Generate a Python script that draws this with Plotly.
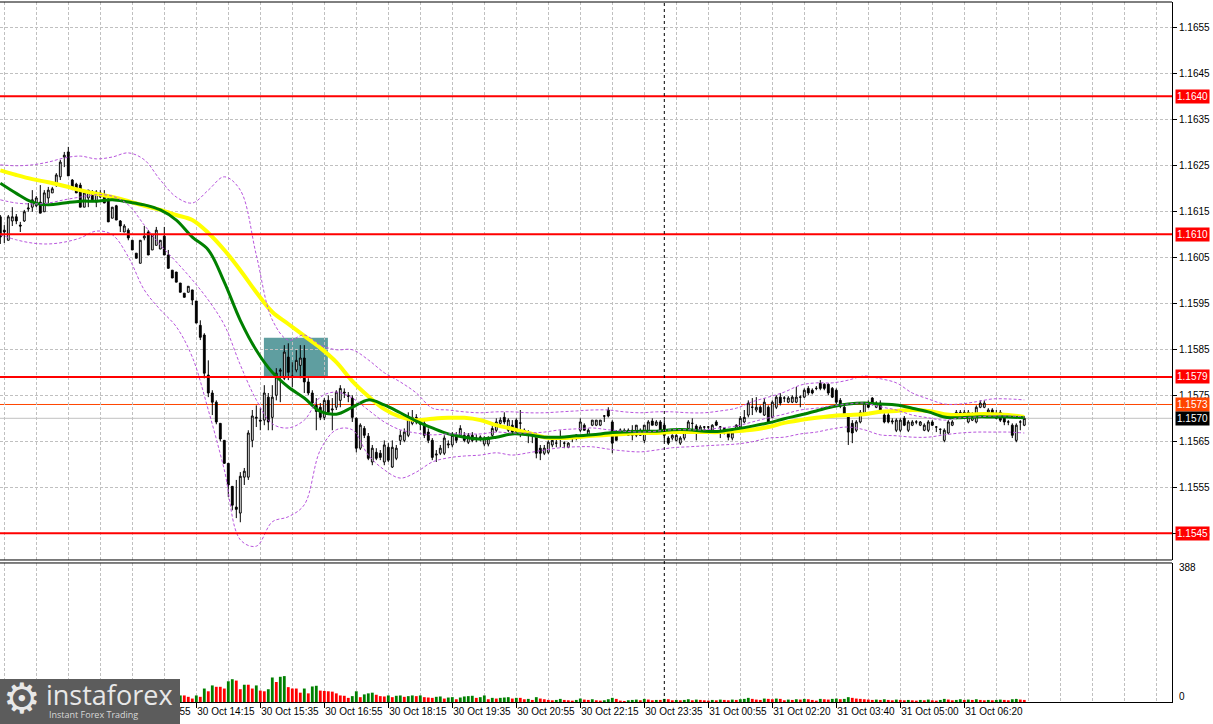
import plotly.graph_objects as go

# ---- candles (5 min bars, index 0 = 30 Oct 10:10) ----
OPEN = [
    1.16138, 1.16109, 1.16087, 1.16129, 1.16138, 1.16120, 1.16129, 1.16155, 1.16159, 1.16162,
    1.16170, 1.16149, 1.16179, 1.16190, 1.16207, 1.16225, 1.16268, 1.16279, 1.16218, 1.16209,
    1.16207, 1.16159, 1.16179, 1.16192, 1.16170, 1.16190, 1.16181, 1.16177, 1.16135, 1.16162,
    1.16129, 1.16105, 1.16109, 1.16087, 1.16059, 1.16037, 1.16092, 1.16105, 1.16066, 1.16076,
    1.16068, 1.16096, 1.16055, 1.16022, 1.16018, 1.15994, 1.15972, 1.15974, 1.15979, 1.15955,
    1.15902, 1.15881, 1.15794, 1.15755, 1.15735, 1.15689, 1.15652, 1.15602, 1.15552, 1.15507,
    1.15494, 1.15572, 1.15572, 1.15652, 1.15700, 1.15696, 1.15696, 1.15746, 1.15702, 1.15750,
    1.15802, 1.15787, 1.15833, 1.15792, 1.15805, 1.15815, 1.15831, 1.15779, 1.15755, 1.15728,
    1.15724, 1.15702, 1.15739, 1.15718, 1.15724, 1.15739, 1.15757, 1.15750, 1.15744, 1.15700,
    1.15635, 1.15678, 1.15661, 1.15605, 1.15626, 1.15624, 1.15605, 1.15637, 1.15594, 1.15613,
    1.15652, 1.15652, 1.15663, 1.15689, 1.15702, 1.15692, 1.15689, 1.15670, 1.15652, 1.15620,
    1.15624, 1.15624, 1.15642, 1.15642, 1.15663, 1.15663, 1.15663, 1.15648, 1.15663, 1.15657,
    1.15657, 1.15644, 1.15644, 1.15663, 1.15674, 1.15689, 1.15702, 1.15674, 1.15685, 1.15696,
    1.15689, 1.15674, 1.15668, 1.15666, 1.15661, 1.15635, 1.15624, 1.15626, 1.15642, 1.15646,
    1.15655, 1.15646, 1.15637, 1.15657, 1.15663, 1.15674, 1.15685, 1.15663, 1.15685, 1.15685,
    1.15685, 1.15705, 1.15718, 1.15692, 1.15668, 1.15674, 1.15674, 1.15674, 1.15663, 1.15663,
    1.15674, 1.15652, 1.15670, 1.15694, 1.15685, 1.15692, 1.15685, 1.15657, 1.15657, 1.15652,
    1.15646, 1.15657, 1.15678, 1.15689, 1.15683, 1.15674, 1.15681, 1.15681, 1.15674, 1.15692,
    1.15681, 1.15678, 1.15668, 1.15657, 1.15674, 1.15681, 1.15692, 1.15707, 1.15724, 1.15718,
    1.15724, 1.15707, 1.15724, 1.15702, 1.15724, 1.15746, 1.15744, 1.15735, 1.15735, 1.15735,
    1.15746, 1.15746, 1.15765, 1.15761, 1.15765, 1.15776, 1.15774, 1.15774, 1.15765, 1.15761,
    1.15739, 1.15724, 1.15707, 1.15689, 1.15674, 1.15692, 1.15711, 1.15733, 1.15744, 1.15724,
    1.15733, 1.15707, 1.15707, 1.15692, 1.15674, 1.15674, 1.15700, 1.15674, 1.15685, 1.15692,
    1.15685, 1.15674, 1.15674, 1.15692, 1.15681, 1.15676, 1.15652, 1.15668, 1.15685, 1.15700,
    1.15702, 1.15713, 1.15692, 1.15696, 1.15692, 1.15724, 1.15724, 1.15713, 1.15718, 1.15700,
    1.15713, 1.15707, 1.15692, 1.15685, 1.15652, 1.15692, 1.15685,
]
HIGH = [
    1.16142, 1.16120, 1.16142, 1.16159, 1.16144, 1.16127, 1.16153, 1.16168, 1.16196, 1.16183,
    1.16207, 1.16196, 1.16203, 1.16203, 1.16233, 1.16262, 1.16279, 1.16290, 1.16220, 1.16212,
    1.16212, 1.16190, 1.16196, 1.16196, 1.16196, 1.16196, 1.16196, 1.16179, 1.16159, 1.16164,
    1.16131, 1.16122, 1.16113, 1.16087, 1.16059, 1.16087, 1.16118, 1.16109, 1.16098, 1.16116,
    1.16087, 1.16116, 1.16066, 1.16022, 1.16018, 1.15994, 1.15972, 1.15987, 1.15979, 1.15955,
    1.15913, 1.15885, 1.15826, 1.15761, 1.15739, 1.15689, 1.15652, 1.15602, 1.15552, 1.15566,
    1.15583, 1.15592, 1.15674, 1.15718, 1.15728, 1.15722, 1.15772, 1.15755, 1.15772, 1.15809,
    1.15809, 1.15859, 1.15863, 1.15822, 1.15848, 1.15859, 1.15859, 1.15787, 1.15761, 1.15744,
    1.15733, 1.15744, 1.15750, 1.15744, 1.15761, 1.15772, 1.15765, 1.15757, 1.15750, 1.15702,
    1.15689, 1.15683, 1.15668, 1.15642, 1.15635, 1.15631, 1.15652, 1.15646, 1.15652, 1.15642,
    1.15674, 1.15678, 1.15713, 1.15718, 1.15709, 1.15700, 1.15696, 1.15678, 1.15657, 1.15631,
    1.15642, 1.15663, 1.15652, 1.15670, 1.15670, 1.15685, 1.15670, 1.15668, 1.15670, 1.15665,
    1.15663, 1.15661, 1.15661, 1.15685, 1.15700, 1.15702, 1.15713, 1.15700, 1.15696, 1.15700,
    1.15718, 1.15678, 1.15674, 1.15670, 1.15668, 1.15642, 1.15642, 1.15652, 1.15657, 1.15657,
    1.15674, 1.15650, 1.15648, 1.15661, 1.15665, 1.15700, 1.15689, 1.15678, 1.15696, 1.15696,
    1.15696, 1.15707, 1.15724, 1.15696, 1.15674, 1.15678, 1.15678, 1.15678, 1.15685, 1.15685,
    1.15678, 1.15685, 1.15696, 1.15700, 1.15696, 1.15696, 1.15696, 1.15661, 1.15665, 1.15665,
    1.15661, 1.15670, 1.15696, 1.15700, 1.15687, 1.15685, 1.15683, 1.15683, 1.15687, 1.15696,
    1.15683, 1.15681, 1.15674, 1.15674, 1.15687, 1.15705, 1.15718, 1.15739, 1.15744, 1.15746,
    1.15728, 1.15744, 1.15728, 1.15739, 1.15750, 1.15755, 1.15748, 1.15748, 1.15750, 1.15768,
    1.15750, 1.15765, 1.15770, 1.15765, 1.15770, 1.15783, 1.15776, 1.15776, 1.15768, 1.15765,
    1.15744, 1.15728, 1.15711, 1.15696, 1.15696, 1.15718, 1.15735, 1.15739, 1.15746, 1.15737,
    1.15739, 1.15711, 1.15711, 1.15700, 1.15700, 1.15700, 1.15705, 1.15696, 1.15696, 1.15696,
    1.15694, 1.15689, 1.15696, 1.15696, 1.15683, 1.15678, 1.15678, 1.15696, 1.15696, 1.15718,
    1.15718, 1.15718, 1.15718, 1.15713, 1.15728, 1.15739, 1.15739, 1.15722, 1.15722, 1.15718,
    1.15718, 1.15711, 1.15696, 1.15689, 1.15689, 1.15696, 1.15705,
]
LOW = [
    1.16079, 1.16081, 1.16087, 1.16118, 1.16122, 1.16105, 1.16127, 1.16149, 1.16149, 1.16159,
    1.16146, 1.16149, 1.16168, 1.16190, 1.16203, 1.16218, 1.16246, 1.16227, 1.16196, 1.16190,
    1.16159, 1.16159, 1.16159, 1.16170, 1.16159, 1.16179, 1.16168, 1.16127, 1.16135, 1.16131,
    1.16105, 1.16105, 1.16087, 1.16066, 1.16048, 1.16037, 1.16087, 1.16055, 1.16066, 1.16076,
    1.16068, 1.16055, 1.16026, 1.16005, 1.15996, 1.15974, 1.15963, 1.15974, 1.15946, 1.15907,
    1.15870, 1.15787, 1.15746, 1.15707, 1.15687, 1.15650, 1.15602, 1.15529, 1.15500, 1.15483,
    1.15474, 1.15555, 1.15566, 1.15637, 1.15681, 1.15674, 1.15685, 1.15674, 1.15674, 1.15739,
    1.15735, 1.15783, 1.15783, 1.15768, 1.15800, 1.15787, 1.15755, 1.15750, 1.15728, 1.15674,
    1.15696, 1.15696, 1.15707, 1.15674, 1.15718, 1.15724, 1.15744, 1.15735, 1.15692, 1.15626,
    1.15631, 1.15657, 1.15609, 1.15598, 1.15609, 1.15609, 1.15598, 1.15605, 1.15592, 1.15609,
    1.15642, 1.15648, 1.15659, 1.15685, 1.15687, 1.15674, 1.15657, 1.15646, 1.15609, 1.15605,
    1.15620, 1.15620, 1.15635, 1.15637, 1.15646, 1.15659, 1.15648, 1.15644, 1.15648, 1.15648,
    1.15650, 1.15639, 1.15639, 1.15659, 1.15670, 1.15683, 1.15687, 1.15670, 1.15665, 1.15665,
    1.15659, 1.15663, 1.15646, 1.15646, 1.15613, 1.15609, 1.15620, 1.15622, 1.15637, 1.15637,
    1.15637, 1.15635, 1.15635, 1.15648, 1.15652, 1.15670, 1.15674, 1.15661, 1.15683, 1.15683,
    1.15683, 1.15692, 1.15702, 1.15624, 1.15652, 1.15668, 1.15670, 1.15663, 1.15652, 1.15659,
    1.15663, 1.15646, 1.15668, 1.15685, 1.15683, 1.15674, 1.15648, 1.15642, 1.15652, 1.15650,
    1.15642, 1.15652, 1.15674, 1.15674, 1.15652, 1.15670, 1.15668, 1.15670, 1.15672, 1.15683,
    1.15657, 1.15665, 1.15652, 1.15652, 1.15670, 1.15678, 1.15689, 1.15702, 1.15707, 1.15713,
    1.15711, 1.15705, 1.15692, 1.15700, 1.15720, 1.15728, 1.15735, 1.15733, 1.15733, 1.15733,
    1.15724, 1.15744, 1.15750, 1.15752, 1.15761, 1.15761, 1.15761, 1.15750, 1.15744, 1.15731,
    1.15722, 1.15705, 1.15642, 1.15646, 1.15670, 1.15689, 1.15709, 1.15722, 1.15728, 1.15722,
    1.15711, 1.15689, 1.15689, 1.15687, 1.15670, 1.15670, 1.15683, 1.15670, 1.15683, 1.15687,
    1.15683, 1.15672, 1.15670, 1.15683, 1.15670, 1.15665, 1.15648, 1.15665, 1.15683, 1.15698,
    1.15700, 1.15700, 1.15689, 1.15694, 1.15689, 1.15722, 1.15722, 1.15707, 1.15707, 1.15698,
    1.15692, 1.15685, 1.15685, 1.15657, 1.15648, 1.15674, 1.15683,
]
CLOSE = [
    1.16094, 1.16105, 1.16138, 1.16138, 1.16129, 1.16118, 1.16149, 1.16157, 1.16175, 1.16179,
    1.16146, 1.16190, 1.16196, 1.16199, 1.16229, 1.16257, 1.16272, 1.16227, 1.16199, 1.16190,
    1.16159, 1.16190, 1.16196, 1.16175, 1.16192, 1.16181, 1.16168, 1.16127, 1.16159, 1.16131,
    1.16118, 1.16118, 1.16092, 1.16066, 1.16048, 1.16087, 1.16096, 1.16055, 1.16098, 1.16109,
    1.16087, 1.16055, 1.16026, 1.16005, 1.15996, 1.15974, 1.15963, 1.15987, 1.15957, 1.15907,
    1.15876, 1.15798, 1.15755, 1.15735, 1.15692, 1.15655, 1.15602, 1.15555, 1.15511, 1.15502,
    1.15574, 1.15585, 1.15668, 1.15705, 1.15702, 1.15694, 1.15755, 1.15692, 1.15746, 1.15798,
    1.15805, 1.15844, 1.15800, 1.15789, 1.15826, 1.15831, 1.15779, 1.15755, 1.15733, 1.15715,
    1.15702, 1.15739, 1.15713, 1.15720, 1.15757, 1.15765, 1.15755, 1.15748, 1.15702, 1.15635,
    1.15685, 1.15663, 1.15613, 1.15635, 1.15613, 1.15615, 1.15642, 1.15609, 1.15637, 1.15635,
    1.15663, 1.15670, 1.15702, 1.15702, 1.15692, 1.15687, 1.15663, 1.15652, 1.15615, 1.15622,
    1.15635, 1.15657, 1.15644, 1.15663, 1.15652, 1.15678, 1.15652, 1.15663, 1.15652, 1.15657,
    1.15659, 1.15657, 1.15657, 1.15678, 1.15692, 1.15696, 1.15692, 1.15696, 1.15670, 1.15670,
    1.15690, 1.15668, 1.15666, 1.15663, 1.15624, 1.15624, 1.15635, 1.15648, 1.15652, 1.15646,
    1.15655, 1.15646, 1.15646, 1.15657, 1.15663, 1.15692, 1.15674, 1.15674, 1.15696, 1.15696,
    1.15696, 1.15705, 1.15705, 1.15646, 1.15652, 1.15674, 1.15672, 1.15663, 1.15674, 1.15685,
    1.15663, 1.15685, 1.15692, 1.15685, 1.15692, 1.15674, 1.15663, 1.15646, 1.15663, 1.15663,
    1.15657, 1.15670, 1.15692, 1.15689, 1.15670, 1.15681, 1.15681, 1.15681, 1.15685, 1.15685,
    1.15681, 1.15668, 1.15659, 1.15668, 1.15685, 1.15700, 1.15702, 1.15733, 1.15724, 1.15724,
    1.15713, 1.15735, 1.15692, 1.15735, 1.15746, 1.15733, 1.15744, 1.15744, 1.15746, 1.15746,
    1.15746, 1.15761, 1.15755, 1.15755, 1.15765, 1.15765, 1.15765, 1.15755, 1.15746, 1.15735,
    1.15726, 1.15707, 1.15670, 1.15668, 1.15692, 1.15713, 1.15733, 1.15724, 1.15733, 1.15733,
    1.15713, 1.15692, 1.15692, 1.15694, 1.15696, 1.15696, 1.15685, 1.15692, 1.15692, 1.15692,
    1.15692, 1.15685, 1.15692, 1.15685, 1.15681, 1.15676, 1.15674, 1.15692, 1.15692, 1.15713,
    1.15713, 1.15702, 1.15713, 1.15707, 1.15724, 1.15733, 1.15733, 1.15718, 1.15711, 1.15711,
    1.15696, 1.15692, 1.15692, 1.15663, 1.15685, 1.15692, 1.15700,
]
VOLUME = [
    22, 18, 25, 15, 20, 17, 14, 24, 28, 19, 26, 21, 17, 23, 30, 34, 27, 38, 31, 22,
    25, 19, 16, 18, 14, 17, 15, 24, 20, 21, 18, 16, 19, 22, 17, 25, 19, 23, 18, 16,
    20, 24, 22, 17, 16, 19, 19, 15, 10, 19, 15, 39, 31, 48, 44, 44, 39, 60, 66, 62,
    37, 50, 50, 39, 48, 33, 31, 37, 71, 58, 73, 75, 43, 39, 39, 27, 39, 25, 45, 47,
    33, 32, 31, 30, 25, 19, 18, 12, 17, 31, 14, 22, 25, 27, 21, 17, 16, 19, 14, 18,
    19, 15, 17, 19, 17, 19, 14, 13, 12, 15, 16, 10, 13, 14, 8, 13, 16, 17, 18, 12,
    14, 19, 8, 12, 10, 12, 13, 14, 10, 12, 12, 8, 9, 6, 14, 10, 8, 6, 5, 6,
    9, 6, 5, 4, 6, 10, 7, 6, 8, 5, 4, 5, 8, 12, 9, 4, 3, 5, 6, 7,
    5, 9, 7, 5, 6, 6, 9, 8, 5, 6, 5, 6, 8, 5, 7, 6, 5, 4, 6, 5,
    7, 6, 5, 7, 6, 8, 9, 12, 9, 7, 6, 10, 9, 8, 10, 9, 5, 7, 6, 8,
    7, 9, 8, 6, 4, 9, 8, 7, 9, 10, 8, 9, 14, 12, 10, 9, 8, 7, 6, 7,
    6, 8, 6, 5, 7, 6, 5, 6, 5, 4, 6, 5, 7, 5, 4, 6, 9, 7, 5, 6,
    8, 6, 7, 6, 8, 6, 5, 6, 5, 6, 7, 6, 5, 8, 9, 7, 6,
]

# indicator lines, read every 4th bar
LINE_IDX = list(range(0, 257, 4))
GREEN_MA = [
    1.16211, 1.16189, 1.16170, 1.16164, 1.16168, 1.16172, 1.16172, 1.16175, 1.16170, 1.16164,
    1.16153, 1.16131, 1.16094, 1.16066, 1.15996, 1.15913, 1.15848, 1.15800, 1.15768, 1.15744,
    1.15715, 1.15709, 1.15724, 1.15740, 1.15729, 1.15712, 1.15694, 1.15679, 1.15666, 1.15659,
    1.15655, 1.15659, 1.15666, 1.15664, 1.15659, 1.15659, 1.15662, 1.15664, 1.15668, 1.15670,
    1.15672, 1.15672, 1.15675, 1.15675, 1.15672, 1.15672, 1.15677, 1.15683, 1.15690, 1.15699,
    1.15707, 1.15716, 1.15725, 1.15731, 1.15733, 1.15731, 1.15729, 1.15722, 1.15714, 1.15703,
    1.15701, 1.15703, 1.15703, 1.15703, 1.15701,
]
YELLOW_MA = [
    1.16239, 1.16229, 1.16220, 1.16213, 1.16205, 1.16196, 1.16188, 1.16181, 1.16172, 1.16162,
    1.16153, 1.16142, 1.16131, 1.16103, 1.16066, 1.16022, 1.15974, 1.15931, 1.15905, 1.15879,
    1.15853, 1.15822, 1.15781, 1.15748, 1.15720, 1.15703, 1.15696, 1.15699, 1.15701, 1.15701,
    1.15696, 1.15685, 1.15677, 1.15668, 1.15659, 1.15657, 1.15659, 1.15662, 1.15664, 1.15666,
    1.15668, 1.15668, 1.15670, 1.15670, 1.15670, 1.15670, 1.15672, 1.15675, 1.15681, 1.15690,
    1.15696, 1.15701, 1.15705, 1.15707, 1.15709, 1.15714, 1.15716, 1.15718, 1.15716, 1.15709,
    1.15707, 1.15709, 1.15709, 1.15707, 1.15703,
]
BB_UPPER = [
    1.16251, 1.16249, 1.16251, 1.16257, 1.16266, 1.16270, 1.16264, 1.16268, 1.16277, 1.16262,
    1.16218, 1.16181, 1.16168, 1.16196, 1.16225, 1.16196, 1.16055, 1.15914, 1.15870, 1.15881,
    1.15859, 1.15849, 1.15849, 1.15827, 1.15799, 1.15779, 1.15755, 1.15722, 1.15718, 1.15714,
    1.15712, 1.15714, 1.15714, 1.15712, 1.15712, 1.15714, 1.15716, 1.15718, 1.15718, 1.15714,
    1.15712, 1.15714, 1.15714, 1.15712, 1.15712, 1.15716, 1.15722, 1.15736, 1.15746, 1.15757,
    1.15772, 1.15777, 1.15777, 1.15783, 1.15792, 1.15786, 1.15777, 1.15755, 1.15742, 1.15731,
    1.15731, 1.15736, 1.15742, 1.15742, 1.15740,
]
BB_MIDDLE = [
    1.16175, 1.16168, 1.16166, 1.16168, 1.16175, 1.16181, 1.16186, 1.16183, 1.16164, 1.16120,
    1.16077, 1.16040, 1.16001, 1.15957, 1.15903, 1.15816, 1.15740, 1.15688, 1.15679, 1.15696,
    1.15746, 1.15757, 1.15744, 1.15718, 1.15692, 1.15675, 1.15668, 1.15664, 1.15666, 1.15666,
    1.15666, 1.15670, 1.15668, 1.15668, 1.15670, 1.15675, 1.15677, 1.15679, 1.15675, 1.15672,
    1.15670, 1.15672, 1.15675, 1.15675, 1.15675, 1.15679, 1.15683, 1.15692, 1.15701, 1.15709,
    1.15718, 1.15722, 1.15727, 1.15731, 1.15733, 1.15725, 1.15718, 1.15707, 1.15701, 1.15696,
    1.15701, 1.15703, 1.15705, 1.15705, 1.15703,
]
BB_LOWER = [
    1.16099, 1.16088, 1.16081, 1.16079, 1.16083, 1.16092, 1.16107, 1.16099, 1.16051, 1.15979,
    1.15936, 1.15899, 1.15833, 1.15718, 1.15588, 1.15436, 1.15422, 1.15475, 1.15486, 1.15512,
    1.15631, 1.15675, 1.15675, 1.15620, 1.15588, 1.15570, 1.15583, 1.15605, 1.15614, 1.15618,
    1.15620, 1.15625, 1.15620, 1.15625, 1.15631, 1.15636, 1.15638, 1.15638, 1.15633, 1.15629,
    1.15627, 1.15631, 1.15636, 1.15638, 1.15640, 1.15642, 1.15644, 1.15649, 1.15657, 1.15659,
    1.15666, 1.15670, 1.15677, 1.15681, 1.15675, 1.15664, 1.15662, 1.15659, 1.15659, 1.15664,
    1.15668, 1.15670, 1.15670, 1.15670, 1.15668,
]

PRICE_TICKS = [1.1545, 1.1555, 1.1565, 1.1575, 1.1585, 1.1595,
               1.1605, 1.1615, 1.1625, 1.1635, 1.1645, 1.1655]
TIME_TICKS = [33, 49, 65, 81, 97, 113, 129, 145, 161, 177, 193, 209, 225, 241]
TIME_LABELS = [
    "30 Oct 12:55", "30 Oct 14:15", "30 Oct 15:35", "30 Oct 16:55", "30 Oct 18:15",
    "30 Oct 19:35", "30 Oct 20:55", "30 Oct 22:15", "30 Oct 23:35", "31 Oct 00:55",
    "31 Oct 02:20", "31 Oct 03:40", "31 Oct 05:00", "31 Oct 06:20",
]
LEVELS = [1.1640, 1.1610, 1.1579, 1.1545]
ASK_LEVEL = 1.1573
BID_LEVEL = 1.1570
DAY_BREAK = 166
ZONE = dict(x0=65.9, x1=81.9, y0=1.1579, y1=1.15875)
VOL_MAX_LABEL = 388

FONT = "Liberation Sans, Arial, sans-serif"
GRID = "#c0c0c0"
BAND = "#b855dd"
X_RANGE = [-0.075, 292.925]
MAIN_BOTTOM = 0.2029
VOL_TOP = 0.1986
PLOT_W, PLOT_H = 1172, 700  # plot area in pixels, used to place the logo

idx = list(range(len(OPEN)))
vol_colors = ["#008000" if i > 0 and VOLUME[i] > VOLUME[i - 1] else "#ff0000"
              for i in range(len(VOLUME))]

fig = go.Figure()
fig.add_trace(go.Candlestick(
    x=idx, open=OPEN, high=HIGH, low=LOW, close=CLOSE,
    increasing=dict(line=dict(color="black", width=1), fillcolor="white"),
    decreasing=dict(line=dict(color="black", width=1), fillcolor="black"),
    whiskerwidth=0, hoverinfo="skip", xaxis="x", yaxis="y",
))
fig.add_trace(go.Scatter(x=LINE_IDX, y=YELLOW_MA, mode="lines", hoverinfo="skip",
                         line=dict(color="#ffff00", width=4, shape="spline")))
fig.add_trace(go.Scatter(x=LINE_IDX, y=GREEN_MA, mode="lines", hoverinfo="skip",
                         line=dict(color="#008000", width=3, shape="spline")))
for band in (BB_UPPER, BB_MIDDLE, BB_LOWER):
    fig.add_trace(go.Scatter(x=LINE_IDX, y=band, mode="lines", hoverinfo="skip",
                             line=dict(color=BAND, width=1, dash="3px,2px", shape="spline")))
fig.add_trace(go.Bar(x=idx, y=VOLUME, marker=dict(color=vol_colors, line=dict(width=0)),
                     width=0.7, xaxis="x2", yaxis="y2", hoverinfo="skip"))

grid_vals = list(range(1, 292, 8))
fig.update_layout(
    width=1213, height=724,
    margin=dict(l=0, r=41, t=2, b=22),
    paper_bgcolor="white", plot_bgcolor="white",
    showlegend=False, boxgap=0.35,
    font=dict(family=FONT, size=10, color="black"),
    xaxis=dict(domain=[0, 1], anchor="y", range=X_RANGE, tickmode="array",
               tickvals=grid_vals, showticklabels=False, ticks="", automargin=False,
               showgrid=True, gridcolor=GRID, griddash="3px,2px", zeroline=False,
               rangeslider=dict(visible=False), fixedrange=True),
    xaxis2=dict(domain=[0, 1], anchor="y2", range=X_RANGE, tickmode="array",
                tickvals=TIME_TICKS, ticktext=TIME_LABELS, ticks="outside",
                ticklen=5, tickcolor="black", ticklabelposition="outside right",
                tickangle=0, automargin=False,
                showgrid=True, gridcolor=GRID, griddash="3px,2px", zeroline=False,
                minor=dict(tickmode="array", tickvals=grid_vals, showgrid=True,
                           gridcolor=GRID, griddash="3px,2px", ticks=""),
                showline=True, linecolor="black", linewidth=1,
                tickfont=dict(family=FONT, size=10, color="black")),
    yaxis=dict(domain=[MAIN_BOTTOM, 1], anchor="x", side="right", automargin=False,
               range=[1.15392, 1.16605], tickmode="array", tickvals=PRICE_TICKS,
               ticktext=[f"{v:.4f}" for v in PRICE_TICKS], ticks="outside",
               ticklen=4, tickcolor="black", showline=True, linecolor="black",
               showgrid=True, gridcolor=GRID, griddash="3px,2px", zeroline=False,
               tickfont=dict(family=FONT, size=10, color="black")),
    yaxis2=dict(domain=[0, VOL_TOP], anchor="x2", side="right", automargin=False,
                range=[0, 402.5], showticklabels=False, showgrid=False,
                ticks="", showline=True, linecolor="black", zeroline=False),
)

# teal zone behind candles
fig.add_shape(type="rect", xref="x", yref="y", layer="below",
              fillcolor="#5f9ea0", line=dict(width=0), **ZONE)
# bid / ask lines
fig.add_shape(type="line", xref="paper", yref="y", x0=0, x1=1, y0=BID_LEVEL, y1=BID_LEVEL,
              line=dict(color="#c0c0c0", width=1), layer="below")
fig.add_shape(type="line", xref="paper", yref="y", x0=0, x1=1, y0=ASK_LEVEL, y1=ASK_LEVEL,
              line=dict(color="#ff4500", width=1), layer="below")
# support / resistance levels
for lvl in LEVELS:
    fig.add_shape(type="line", xref="paper", yref="y", x0=0, x1=1, y0=lvl, y1=lvl,
                  line=dict(color="#ff0000", width=2))
# day separator
fig.add_shape(type="line", xref="x", yref="paper", x0=DAY_BREAK, x1=DAY_BREAK, y0=0, y1=1,
              line=dict(color="black", width=1, dash="3px,3px"))
# window frame
for yv in (1, MAIN_BOTTOM, VOL_TOP):
    fig.add_shape(type="line", xref="paper", yref="paper", x0=0, x1=1, y0=yv, y1=yv,
                  line=dict(color="black", width=1))

# price tags on the right scale
tags = [(lvl, "#ff0000") for lvl in LEVELS] + [(ASK_LEVEL, "#ff4500"), (BID_LEVEL, "#000000")]
for lvl, bg in tags:
    fig.add_annotation(xref="paper", yref="y", x=1, y=lvl, xanchor="left", xshift=3,
                       text=f"{lvl:.4f}", showarrow=False, bgcolor=bg, borderpad=1,
                       font=dict(family=FONT, size=10, color="white"))
fig.add_annotation(xref="paper", yref="y2", x=1, y=VOL_MAX_LABEL, xanchor="left", xshift=5,
                   text=str(VOL_MAX_LABEL), showarrow=False,
                   font=dict(family=FONT, size=10, color="black"))
fig.add_annotation(xref="paper", yref="y2", x=1, y=0, xanchor="left", xshift=5, yshift=6,
                   text="0", showarrow=False, font=dict(family=FONT, size=10, color="black"))


# logo block (positions given in screen pixels of the plot area)
def px(x):
    return x / PLOT_W


def py(y):
    return (PLOT_H + 2 - y) / PLOT_H


fig.add_shape(type="rect", xref="paper", yref="paper", x0=0, x1=px(180),
              y0=py(726), y1=py(679), fillcolor="#5c5c5c", line=dict(width=0), layer="above")
fig.add_annotation(xref="paper", yref="paper", x=px(22), y=py(698), xanchor="center",
                   yanchor="middle", text="⚙", showarrow=False,
                   font=dict(family="DejaVu Sans", size=42, color="#e8e8e8"))
fig.add_annotation(xref="paper", yref="paper", x=px(44), y=py(694), xanchor="left",
                   yanchor="middle", text="instaforex", showarrow=False,
                   font=dict(family="Open Sans", size=27, color="#e8e8e8"))
fig.add_annotation(xref="paper", yref="paper", x=px(47), y=py(714), xanchor="left",
                   yanchor="middle", text="Instant Forex Trading", showarrow=False,
                   font=dict(family="Open Sans", size=9, color="#d8d8d8"))

fig.write_html("out.html", config={"displayModeBar": False},
               post_script="document.body.style.margin='0';")
